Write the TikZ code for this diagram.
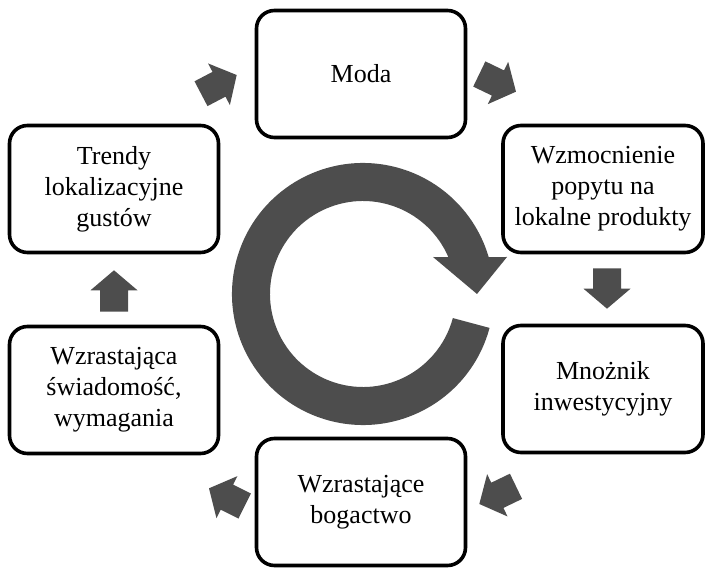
\documentclass[tikz,border=0pt]{standalone}
\usepackage{fontspec}
\setmainfont{Liberation Serif}
\newfontfamily\boxfont{Liberation Serif}
\usetikzlibrary{calc}
\definecolor{cyclegray}{HTML}{4D4D4D}

% filled block arrow from #1 to #2 (shaft 28pt, head 47pt x 20pt)
\newcommand{\blockarrow}[2]{%
  \fill[cyclegray] let \p1=(#1), \p2=(#2),
      \n1={atan2(\y2-\y1,\x2-\x1)}, \n2={veclen(\x2-\x1,\y2-\y1)} in
      ([arrowframe]0,14) -- ([arrowframe]{\n2-20},14) -- ([arrowframe]{\n2-20},23.5)
      -- ([arrowframe]\n2,0) -- ([arrowframe]{\n2-20},-23.5) -- ([arrowframe]{\n2-20},-14)
      -- ([arrowframe]0,-14) -- cycle;}

\begin{document}
\begin{tikzpicture}[
    x=1pt, y=1pt,
    node distance=247pt,
    box/.style={rectangle, draw, line width=3.6pt, rounded corners=18pt, minimum width=209pt, minimum height=127pt, align=center, font=\boxfont\fontsize{26}{31}\selectfont},
    arrowframe/.style={shift={(\p1)}, rotate=\n1}
]
    \useasboundingbox (0,0) rectangle (706,568);

    % Left column
    \node[box] (trendy) at (114,379) {Trendy\\lokalizacyjne\\gustów};

    % Top
    \node[box, right of=trendy, yshift=115pt] (moda) {Moda};

    % Right column
    \node[box, right of=moda, yshift=-115pt, xshift=-5pt, minimum width=200pt] (popyt) {Wzmocnienie\\popytu na\\lokalne produkty};
    \node[box, node distance=200pt, below of=popyt, minimum width=200pt] (mnoznik) {Mnożnik\\inwestycyjny};

    % Bottom
    \node[box, node distance=428pt, below of=moda] (bogactwo) {Wzrastające\\bogactwo};

    % Left column, lower box
    \node[box, node distance=201pt, below of=trendy] (swiad) {Wzrastająca\\świadomość,\\wymagania};

    % Arrow ends
    \coordinate (tm1) at ([shift={(87pt,30pt)}]trendy.north);
    \coordinate (tm2) at ([shift={(-18pt,-1pt)}]moda.west);
    \coordinate (mp1) at ([shift={(12pt,0pt)}]moda.east);
    \coordinate (mp2) at ([shift={(-87pt,32pt)}]popyt.north);
    \coordinate (pm1) at ([shift={(4pt,-14pt)}]popyt.south);
    \coordinate (pm2) at ([shift={(4pt,15pt)}]mnoznik.north);
    \coordinate (mb1) at ([shift={(-87pt,-32pt)}]mnoznik.south);
    \coordinate (mb2) at ([shift={(12pt,-2pt)}]bogactwo.east);
    \coordinate (bs1) at ([shift={(-10pt,-4pt)}]bogactwo.west);
    \coordinate (bs2) at ([shift={(95pt,-33pt)}]swiad.south);
    \coordinate (st1) at ([yshift=13pt]swiad.north);
    \coordinate (st2) at ([yshift=-16pt]trendy.south);

    % Block arrows
    \blockarrow{tm1}{tm2}
    \blockarrow{mp1}{mp2}
    \blockarrow{pm1}{pm2}
    \blockarrow{mb1}{mb2}
    \blockarrow{bs1}{bs2}
    \blockarrow{st1}{st2}

    % Central cycle arrow
    \fill[cyclegray, shift={(363,274)}] (-15:131) arc[start angle=-15, end angle=-343.6, radius=131]
        -- (144,37) -- (114,0) -- (70,37) -- (23.4:93)
        arc[start angle=23.4, end angle=345, radius=93] -- cycle;
\end{tikzpicture}
\end{document}
